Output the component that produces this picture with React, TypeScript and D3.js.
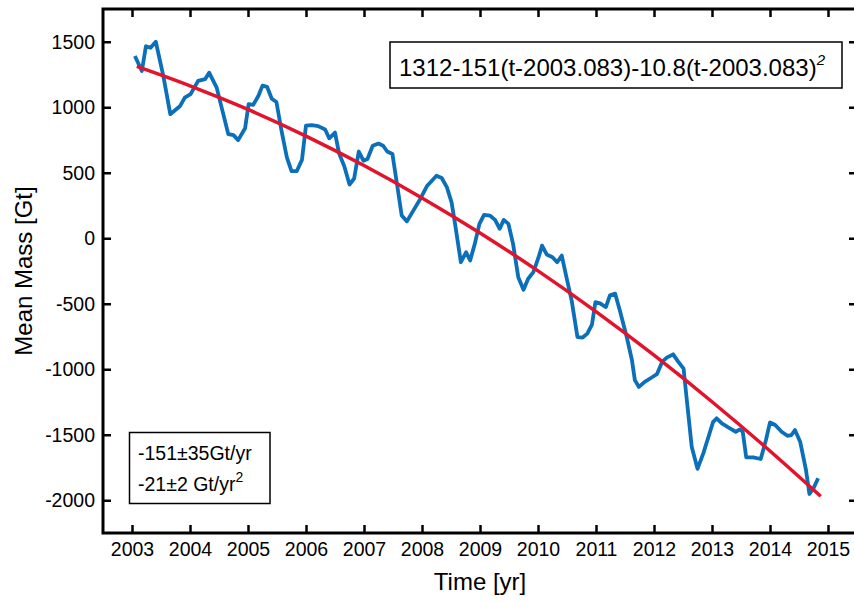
import { useRef, useEffect } from 'react'
import * as d3 from 'd3'

const WIDTH = 854
const HEIGHT = 602
const FRAME = { left: 103, right: 857, top: 9, bottom: 533 }
const FONT = '"Liberation Sans", Arial, sans-serif'

const YEAR_TICKS = [2003, 2004, 2005, 2006, 2007, 2008, 2009, 2010, 2011, 2012, 2013, 2014, 2015]
const MASS_TICKS = [1500, 1000, 500, 0, -500, -1000, -1500, -2000]

// monthly mean mass
const TIMES = [
  2003.05, 2003.17, 2003.24, 2003.32, 2003.41, 2003.54, 2003.66, 2003.83, 2003.91, 2004.01,
  2004.14, 2004.26, 2004.33, 2004.46, 2004.66, 2004.75, 2004.83, 2004.95, 2005.01, 2005.09,
  2005.18, 2005.25, 2005.33, 2005.41, 2005.49, 2005.58, 2005.67, 2005.75, 2005.84, 2005.93,
  2006.0, 2006.1, 2006.21, 2006.33, 2006.4, 2006.5, 2006.57, 2006.66, 2006.75, 2006.83,
  2006.91, 2006.99, 2007.06, 2007.15, 2007.25, 2007.33, 2007.4, 2007.49, 2007.56, 2007.65,
  2007.74, 2007.85, 2007.97, 2008.09, 2008.25, 2008.34, 2008.43, 2008.51, 2008.57, 2008.67,
  2008.76, 2008.83, 2008.91, 2008.99, 2009.07, 2009.17, 2009.26, 2009.34, 2009.41, 2009.49,
  2009.57, 2009.66, 2009.75, 2009.83, 2009.92, 2010.01, 2010.07, 2010.15, 2010.25, 2010.33,
  2010.41, 2010.49, 2010.58, 2010.68, 2010.77, 2010.85, 2010.93, 2010.99, 2011.07, 2011.17,
  2011.24, 2011.33, 2011.41, 2011.53, 2011.62, 2011.67, 2011.74, 2011.84, 2011.96, 2012.05,
  2012.14, 2012.22, 2012.33, 2012.42, 2012.51, 2012.56, 2012.65, 2012.75, 2012.85, 2013.02,
  2013.08, 2013.17, 2013.28, 2013.41, 2013.48, 2013.53, 2013.59, 2013.71, 2013.84, 2013.93,
  2014.0, 2014.09, 2014.2, 2014.3, 2014.37, 2014.43, 2014.52, 2014.62, 2014.68, 2014.75,
  2014.83,
]
const MASS = [
  1391, 1277, 1466, 1454, 1500, 1239, 947, 1010, 1074, 1100,
  1201, 1214, 1264, 1150, 795, 787, 749, 840, 1023, 1018,
  1088, 1165, 1155, 1065, 1040, 815, 617, 512, 512, 598,
  860, 863, 856, 830, 763, 807, 648, 550, 410, 456,
  662, 592, 605, 706, 723, 706, 662, 643, 439, 173,
  129, 211, 300, 401, 477, 460, 388, 274, 110, -183,
  -107, -170, -43, 110, 178, 173, 140, 72, 140, 110,
  -43, -297, -393, -309, -259, -145, -56, -124, -145, -183,
  -132, -297, -474, -754, -758, -728, -660, -487, -497, -525,
  -436, -423, -550, -754, -931, -1083, -1135, -1096, -1063, -1038,
  -944, -911, -886, -944, -995, -1211, -1591, -1760, -1642, -1401,
  -1375, -1413, -1444, -1477, -1459, -1477, -1672, -1672, -1685, -1540,
  -1406, -1426, -1477, -1508, -1502, -1464, -1553, -1769, -1952, -1908,
  -1832,
]

// quadratic trend, read at yearly points
const FIT_TIMES = [2003.083, 2004, 2005, 2006, 2007, 2008, 2009, 2010, 2011, 2012, 2013, 2014, 2014.875]
const FIT_MASS = [1312, 1164, 983, 780, 555, 308, 40, -249, -560, -893, -1248, -1624, -1970]

const EQUATION = '1312-151(t-2003.083)-10.8(t-2003.083)'
const RATE_LINES = ['-151±35Gt/yr', '-21±2 Gt/yr']

export default function App() {
  const svgRef = useRef<SVGSVGElement>(null)

  useEffect(() => {
    if (!svgRef.current) return
    const svg = d3.select(svgRef.current)
    svg.selectAll('*').remove()

    const x = d3.scaleLinear().domain([2002.5, 2015.5]).range([FRAME.left, FRAME.right])
    const y = d3.scaleLinear().domain([-2250, 1750]).range([FRAME.bottom, FRAME.top])

    const styleAxis = (g: d3.Selection<SVGGElement, unknown, null, undefined>) => {
      g.select('.domain').remove()
      g.selectAll('line').attr('stroke', '#000').attr('stroke-width', 2.5)
      g.selectAll('text').attr('fill', '#000').attr('font-size', 19.5).attr('font-family', FONT)
    }
    // plain hyphen for negatives, as in the original figure
    const plain = (d: d3.NumberValue) => String(d)

    svg.append('g')
      .attr('transform', `translate(0,${FRAME.bottom})`)
      .call(d3.axisBottom(x).tickValues(YEAR_TICKS).tickFormat(plain).tickSizeInner(-8).tickSizeOuter(0).tickPadding(9))
      .call(styleAxis)
    svg.append('g')
      .attr('transform', `translate(0,${FRAME.top})`)
      .call(d3.axisTop(x).tickValues(YEAR_TICKS).tickFormat(() => '').tickSizeInner(-8).tickSizeOuter(0))
      .call(styleAxis)
    svg.append('g')
      .attr('transform', `translate(${FRAME.left},0)`)
      .call(d3.axisLeft(y).tickValues(MASS_TICKS).tickFormat(plain).tickSizeInner(-8).tickSizeOuter(0).tickPadding(8))
      .call(styleAxis)
    svg.append('g')
      .attr('transform', `translate(${FRAME.right},0)`)
      .call(d3.axisRight(y).tickValues(MASS_TICKS).tickFormat(() => '').tickSizeInner(-8).tickSizeOuter(0))
      .call(styleAxis)

    svg.append('rect')
      .attr('x', FRAME.left)
      .attr('y', FRAME.top)
      .attr('width', FRAME.right - FRAME.left)
      .attr('height', FRAME.bottom - FRAME.top)
      .attr('fill', 'none')
      .attr('stroke', '#000')
      .attr('stroke-width', 3)

    const obs = TIMES.map((t, i) => [t, MASS[i]] as [number, number])
    svg.append('path')
      .datum(obs)
      .attr('fill', 'none')
      .attr('stroke', '#0b6fb9')
      .attr('stroke-width', 3.8)
      .attr('stroke-linejoin', 'round')
      .attr('d', d3.line<[number, number]>().x((d) => x(d[0])).y((d) => y(d[1])))

    const fit = FIT_TIMES.map((t, i) => [t, FIT_MASS[i]] as [number, number])
    svg.append('path')
      .datum(fit)
      .attr('fill', 'none')
      .attr('stroke', '#e3132c')
      .attr('stroke-width', 3.5)
      .attr('d', d3.line<[number, number]>().curve(d3.curveNatural).x((d) => x(d[0])).y((d) => y(d[1])))

    // axis titles
    svg.append('text')
      .attr('x', (FRAME.left + FRAME.right) / 2)
      .attr('y', 590)
      .attr('text-anchor', 'middle')
      .attr('font-size', 24)
      .attr('font-family', FONT)
      .text('Time [yr]')
    svg.append('text')
      .attr('transform', `translate(32,${(FRAME.top + FRAME.bottom) / 2}) rotate(-90)`)
      .attr('text-anchor', 'middle')
      .attr('font-size', 24)
      .attr('font-family', FONT)
      .text('Mean Mass [Gt]')

    // fit equation box
    svg.append('rect')
      .attr('x', 390).attr('y', 42).attr('width', 452).attr('height', 46)
      .attr('fill', '#fff').attr('stroke', '#000').attr('stroke-width', 1.5)
    const eq = svg.append('text')
      .attr('x', 399).attr('y', 76)
      .attr('font-size', 24).attr('font-family', FONT)
    eq.append('tspan').text(EQUATION)
    eq.append('tspan').attr('dy', -11).attr('font-size', 15).attr('font-style', 'italic').text('2')

    // rate box
    svg.append('rect')
      .attr('x', 129.5).attr('y', 432.5).attr('width', 140.5).attr('height', 71)
      .attr('fill', '#fff').attr('stroke', '#000').attr('stroke-width', 1.5)
    svg.append('text')
      .attr('x', 138).attr('y', 460)
      .attr('font-size', 19.5).attr('font-family', FONT)
      .text(RATE_LINES[0])
    const r2 = svg.append('text')
      .attr('x', 138).attr('y', 491)
      .attr('font-size', 19.5).attr('font-family', FONT)
    r2.append('tspan').text(RATE_LINES[1])
    r2.append('tspan').attr('dy', -9).attr('font-size', 14).text('2')
  }, [])

  return (
    <svg
      ref={svgRef}
      width={WIDTH}
      height={HEIGHT}
      style={{ position: 'absolute', left: 0, top: 0, background: '#fff' }}
    />
  )
}
